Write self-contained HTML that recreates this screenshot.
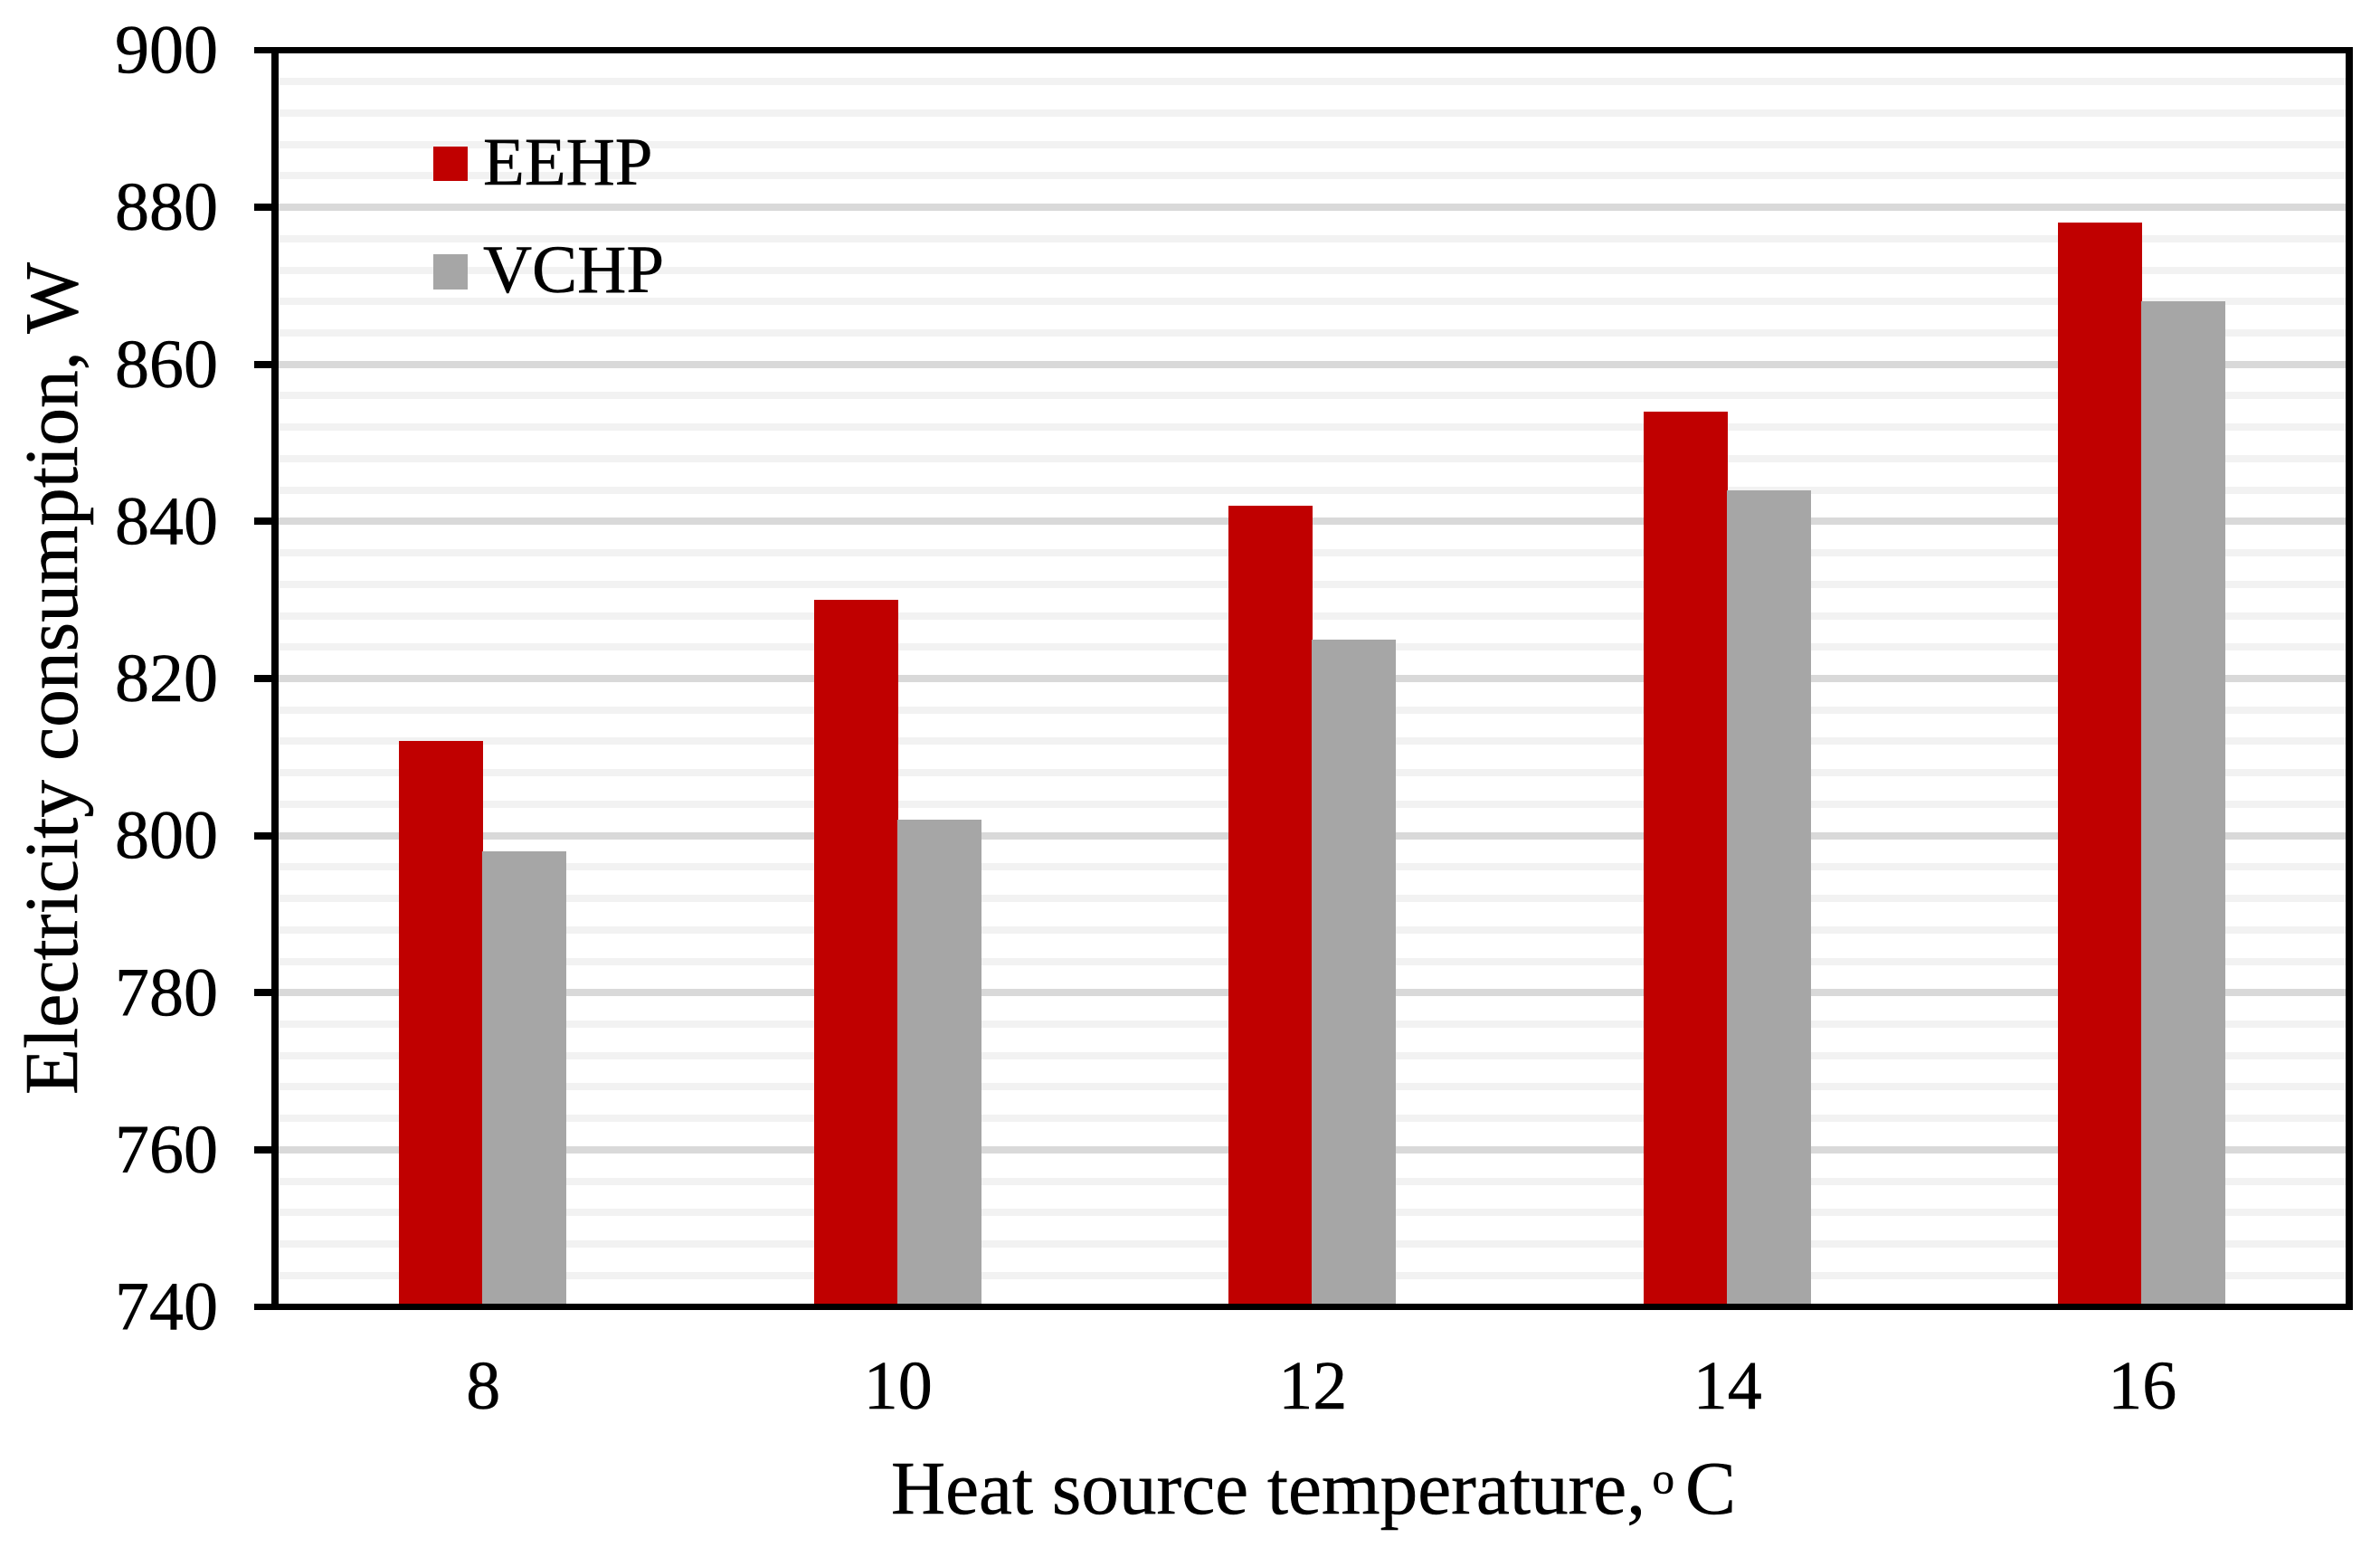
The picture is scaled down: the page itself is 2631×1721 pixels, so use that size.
<!DOCTYPE html>
<html lang="en">
<head>
<meta charset="utf-8">
<title>Electricity consumption vs heat source temperature</title>
<style>
html,body{margin:0;padding:0;background:#fff;}
svg{display:block;}
text{font-family:"Liberation Serif",serif;fill:#000;stroke:#000;stroke-width:0.5px;}
</style>
</head>
<body>
<svg id="chart" xmlns="http://www.w3.org/2000/svg" width="2631" height="1721" viewBox="0 0 2631 1721">
  <rect x="0" y="0" width="2631" height="1721" fill="#ffffff"/>
  <g id="grid" shape-rendering="crispEdges"></g>
  <g id="bars" shape-rendering="crispEdges"></g>
  <g id="axes" shape-rendering="crispEdges">
    <rect x="281" y="52" width="2320" height="7" fill="#000"/>
    <rect x="281" y="1441" width="2320" height="7" fill="#000"/>
    <rect x="300" y="52" width="8" height="1396" fill="#000"/>
    <rect x="2593" y="53" width="8" height="1395" fill="#000"/>
  </g>
  <g id="yticks"></g>
  <g id="xticks"></g>
  <text transform="translate(85,1210) rotate(-90)" font-size="83.5" textLength="920" lengthAdjust="spacingAndGlyphs">Electricity consumption, W</text>
  <g>
    <text x="985" y="1673" font-size="84" textLength="834" lengthAdjust="spacingAndGlyphs">Heat source temperature,</text>
    <text x="1826.5" y="1650.5" font-size="49">o</text>
    <text x="1863" y="1673" font-size="84">C</text>
  </g>
  <g>
    <rect x="479" y="162" width="38" height="38" fill="#c00000"/>
    <text x="534" y="204" font-size="75">EEHP</text>
    <rect x="479" y="281" width="38" height="39" fill="#a6a6a6"/>
    <text x="534" y="323" font-size="75">VCHP</text>
  </g>
</svg>
<script>
const categories = ["8", "10", "12", "14", "16"];
const eehpValues = [812, 830, 842, 854, 878];
const vchpValues = [798, 802, 825, 844, 868];
const majorTicks = [740, 760, 780, 800, 820, 840, 860, 880, 900];
const minorTicks = [744, 748, 752, 756, 764, 768, 772, 776, 784, 788, 792, 796, 804, 808, 812, 816, 824, 828, 832, 836, 844, 848, 852, 856, 864, 868, 872, 876, 884, 888, 892, 896];

const NS = "http://www.w3.org/2000/svg";
const plotLeft = 304.5, plotRight = 2597, plotTop = 55.5, plotBottom = 1444.5;
const yMin = 740, yMax = 900;
const barWidth = 92.5;

function yScale(v) {
  return plotBottom - (v - yMin) / (yMax - yMin) * (plotBottom - plotTop);
}
function xScale(i) {
  return plotLeft + (i + 0.5) * (plotRight - plotLeft) / categories.length;
}
function svgEl(tag, parent, attrs) {
  const el = document.createElementNS(NS, tag);
  for (const k in attrs) el.setAttribute(k, attrs[k]);
  parent.appendChild(el);
  return el;
}

const grid = document.getElementById("grid");
const bars = document.getElementById("bars");
const axes = document.getElementById("axes");
const yticks = document.getElementById("yticks");
const xticks = document.getElementById("xticks");

minorTicks.forEach(function (v) {
  const el = svgEl("rect", grid, {x: 308, y: Math.round(yScale(v) - 4), width: 2285, height: 8, fill: "#f2f2f2"});
  
  
});
majorTicks.forEach(function (v) {
  if (v === yMin || v === yMax) return;
  const el = svgEl("rect", grid, {x: 308, y: Math.round(yScale(v) - 4), width: 2285, height: 8, fill: "#d9d9d9"});
  
  
});

categories.forEach(function (c, i) {
  const cx = xScale(i);
  const topA = Math.round(yScale(eehpValues[i]));
  const topB = Math.round(yScale(vchpValues[i]));
  const a = svgEl("rect", bars, {x: Math.round(cx - barWidth), y: topA, width: 93, height: 1442 - topA, fill: "#c00000"});
  
  
  const b = svgEl("rect", bars, {x: Math.round(cx - 0.5), y: topB, width: 93, height: 1442 - topB, fill: "#a6a6a6"});
  
  
  const t = svgEl("text", xticks, {x: cx + 0.5, y: 1557, "font-size": 76, "text-anchor": "middle"});
  t.textContent = c;
  
  
});

majorTicks.forEach(function (v) {
  if (v !== yMin && v !== yMax) {
    const tick = svgEl("rect", axes, {x: 281, y: Math.round(yScale(v) - 4), width: 20, height: 8, fill: "#000"});
    
    
  }
  const t = svgEl("text", yticks, {x: 241, y: yScale(v) + 25, "font-size": 76, "text-anchor": "end"});
  t.textContent = String(v);
  
  
});
</script>
</body>
</html>
